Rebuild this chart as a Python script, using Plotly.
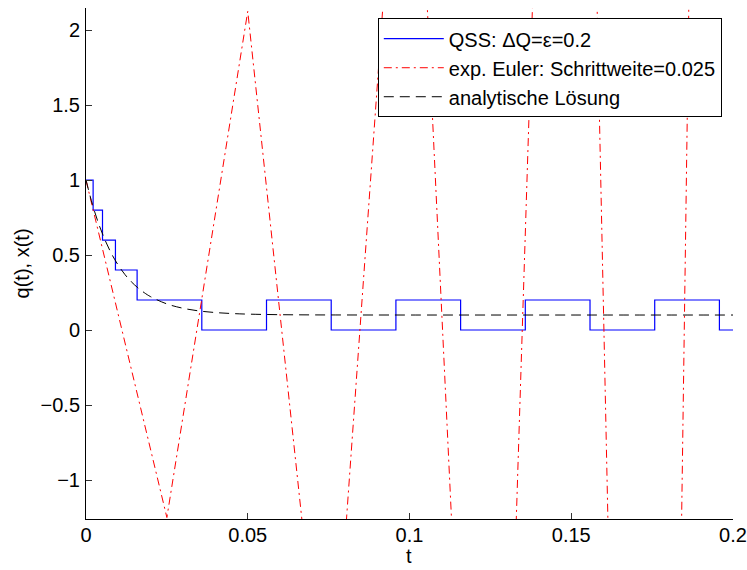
import plotly.graph_objects as go

# QSS quantized state q(t): switching instants and held levels
qss_t = [0, 0.0022, 0.0051, 0.0091, 0.0158, 0.0358, 0.0558, 0.0758,
         0.0958, 0.1158, 0.1358, 0.1558, 0.1758, 0.1958, 0.2]
qss_q = [1.0, 0.8, 0.6, 0.4, 0.2, 0.0, 0.2, 0.0,
         0.2, 0.0, 0.2, 0.0, 0.2, 0.0, 0.0]

# explicit Euler iterates, step size 0.025
euler_t = [0, 0.025, 0.05, 0.075, 0.1, 0.125, 0.15, 0.175, 0.2]
euler_x = [1.0, -1.25, 2.125, -2.9375, 4.65625, -6.734375,
           10.3515625, -15.27734375, 23.166015625]

# analytic solution sampled
exact_t = [0, 0.002, 0.004, 0.006, 0.008, 0.010, 0.012, 0.014, 0.016,
           0.018, 0.020, 0.025, 0.030, 0.035, 0.040, 0.045, 0.050,
           0.060, 0.070, 0.080, 0.100, 0.150, 0.200]
exact_x = [1.0, 0.837, 0.703, 0.594, 0.504, 0.431, 0.371, 0.322, 0.282,
           0.249, 0.222, 0.174, 0.145, 0.127, 0.1165, 0.110, 0.106,
           0.1022, 0.1008, 0.1003, 0.1, 0.1, 0.1]

x_ticks = [0, 0.05, 0.1, 0.15, 0.2]
x_labels = ["0", "0.05", "0.1", "0.15", "0.2"]
y_ticks = [-1, -0.5, 0, 0.5, 1, 1.5, 2]
y_labels = ["\u22121", "\u22120.5", "0", "0.5", "1", "1.5", "2"]

FONT = "Liberation Sans, Arial, sans-serif"
FS = 20

fig = go.Figure()
fig.add_trace(go.Scatter(
    x=qss_t, y=qss_q, mode="lines", line_shape="hv",
    line=dict(color="#0000ff", width=1.2),
    name="QSS: \u0394Q=\u03b5=0.2"))
fig.add_trace(go.Scatter(
    x=euler_t, y=euler_x, mode="lines",
    line=dict(color="#ff0000", width=1, dash="8px,4px,2px,4px"),
    name="exp. Euler: Schrittweite=0.025"))
fig.add_trace(go.Scatter(
    x=exact_t, y=exact_x, mode="lines", line_shape="spline",
    line=dict(color="#000000", width=1, dash="10px,6px"),
    name="analytische L\u00f6sung"))

fig.update_layout(
    width=747, height=570,
    margin=dict(l=86, r=14, t=8, b=51),
    paper_bgcolor="white", plot_bgcolor="white",
    font=dict(family=FONT, size=FS, color="black"),
    showlegend=True,
    legend=dict(
        x=0.451, y=0.98, xanchor="left", yanchor="top",
        bgcolor="white", bordercolor="black", borderwidth=1,
        font=dict(family=FONT, size=FS, color="black"),
        itemwidth=60, tracegroupgap=0,
    ),
    xaxis=dict(
        range=[0, 0.2], tickvals=x_ticks, ticktext=x_labels,
        ticks="inside", ticklen=6, tickcolor="#333",
        showline=True, linecolor="black", linewidth=1,
        showgrid=False, zeroline=False, ticklabelstandoff=-2,
        automargin=False,
    ),
    yaxis=dict(
        range=[-1.26, 2.147], tickvals=y_ticks, ticktext=y_labels,
        ticks="inside", ticklen=6, tickcolor="#333",
        showline=True, linecolor="black", linewidth=1,
        showgrid=False, zeroline=False, ticklabelstandoff=1,
        automargin=False,
    ),
    annotations=[
        dict(text="t", xref="paper", yref="paper", x=0.499, y=-0.072,
             xanchor="center", yanchor="middle", showarrow=False,
             font=dict(family=FONT, size=FS)),
        dict(text="q(t), x(t)", xref="paper", yref="paper", x=-0.099,
             y=0.5, xanchor="center", yanchor="middle", textangle=-90,
             showarrow=False, font=dict(family=FONT, size=FS)),
    ],
)

fig.write_html("out.html")
